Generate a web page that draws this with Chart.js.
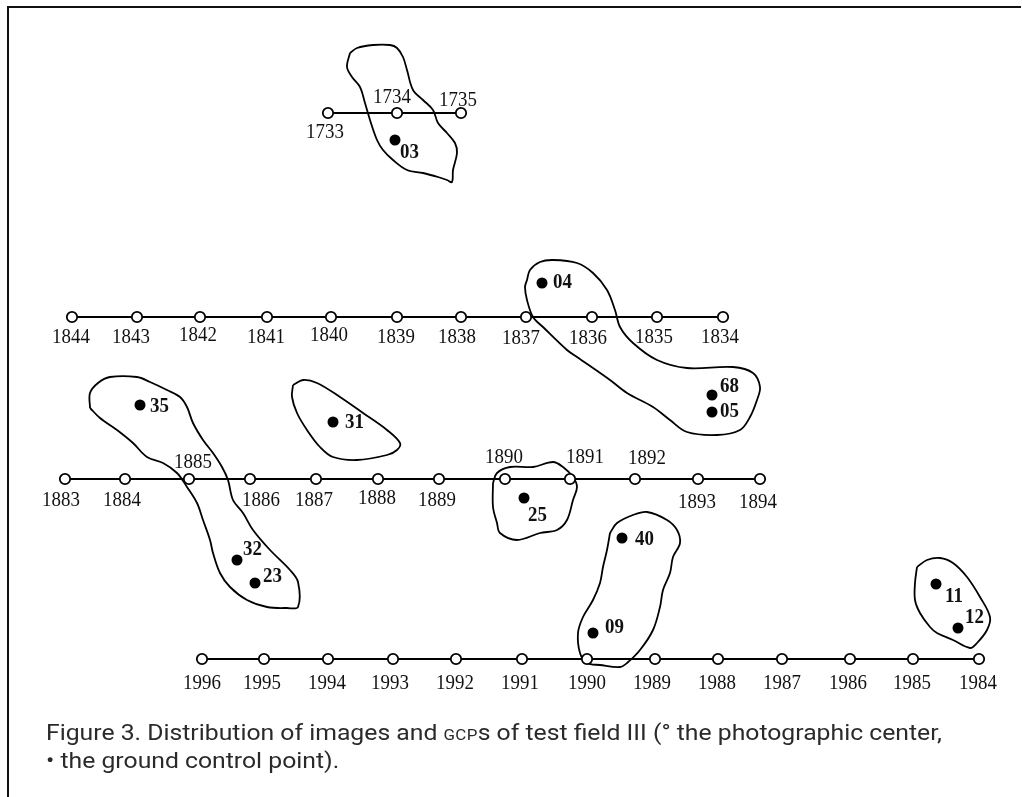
<!DOCTYPE html>
<html>
<head>
<meta charset="utf-8">
<script src="https://cdn.jsdelivr.net/npm/chart.js@4/dist/chart.umd.min.js"></script>
<style>
  html, body { margin: 0; padding: 0; background: #fff; }
  #wrap { position: relative; width: 1022px; height: 797px; overflow: hidden; }
  #frame { position: absolute; left: 7px; top: 6px; right: 1px; bottom: -10px;
           border-top: 2px solid #111; border-left: 2px solid #111; }
  #c { position: absolute; left: 0; top: 0; }
  .cap { position: absolute; left: 46px; font-family: 'Liberation Sans Narrow', 'Roboto', 'Liberation Sans', Arial, sans-serif;
         font-size: 22px; color: #2a2a2a; white-space: nowrap; transform-origin: 0 50%; line-height: 26px; }
  .sc { font-size: 15px; letter-spacing: 0.3px; }
</style>
</head>
<body>
<div id="wrap">
  <div id="frame"></div>
  <canvas id="c" width="1022" height="797"></canvas>
  <div class="cap" id="cap1" style="top:720px">Figure 3. Distribution of images and <span class="sc">GCP</span>s of test field III (&deg; the photographic center,</div>
  <div class="cap" id="cap2" style="top:748px">&bull; the ground control point).</div>
</div>
<script>
// ---------- DATA (diagram units) ----------
// Flight strips: photographic centres
const strip1Ids = ['1733', '1734', '1735'];
const strip1X   = [328, 397, 461];
const strip1Y   = [113, 113, 113];

const strip2Ids = ['1844', '1843', '1842', '1841', '1840', '1839', '1838', '1837', '1836', '1835', '1834'];
const strip2X   = [72, 137, 200, 267, 331, 397, 461, 526, 592, 657, 723];
const strip2Y   = [317, 317, 317, 317, 317, 317, 317, 317, 317, 317, 317];

const strip3Ids = ['1883', '1884', '1885', '1886', '1887', '1888', '1889', '1890', '1891', '1892', '1893', '1894'];
const strip3X   = [65, 125, 189, 250, 316, 378, 439, 505, 570, 635, 698, 760];
const strip3Y   = [479, 479, 479, 479, 479, 479, 479, 479, 479, 479, 479, 479];

const strip4Ids = ['1996', '1995', '1994', '1993', '1992', '1991', '1990', '1989', '1988', '1987', '1986', '1985', '1984'];
const strip4X   = [202, 264, 328, 393, 456, 522, 587, 655, 718, 782, 850, 913, 979];
const strip4Y   = [659, 659, 659, 659, 659, 659, 659, 659, 659, 659, 659, 659, 659];

// Ground control points
const gcpIds = ['03', '04', '68', '05', '35', '31', '32', '23', '25', '40', '09', '11', '12'];
const gcpX   = [395, 542, 712, 712, 140, 333, 237, 255, 524, 622, 593, 936, 958];
const gcpY   = [140, 283, 395, 412, 405, 422, 560, 583, 498, 538, 633, 584, 628];

// Image footprint outlines
const fpAX = [350, 357, 373, 390, 397, 403, 407, 413, 423, 433, 438, 447, 455, 457, 453, 452, 447, 438, 423, 407, 393, 383, 377, 370, 365, 360, 352, 347, 350];
const fpAY = [53, 48, 45, 45, 48, 57, 70, 90, 100, 110, 123, 133, 143, 153, 170, 182, 180, 177, 173, 170, 160, 150, 140, 120, 103, 87, 77, 67, 53];
const fpBX = [527, 530, 540, 553, 577, 593, 607, 615, 620, 633, 657, 687, 733, 753, 760, 757, 750, 740, 717, 687, 670, 653, 627, 610, 577, 567, 543, 533, 527, 525, 527];
const fpBY = [280, 270, 262, 260, 263, 273, 290, 310, 327, 343, 360, 368, 367, 373, 387, 400, 417, 430, 435, 432, 420, 407, 393, 380, 357, 350, 327, 317, 300, 287, 280];
const fpCX = [90, 90, 98, 110, 137, 150, 167, 180, 187, 193, 203, 213, 222, 228, 233, 243, 253, 270, 290, 298, 298, 287, 267, 247, 230, 220, 213, 210, 203, 197, 187, 177, 163, 147, 133, 117, 100, 90];
const fpCY = [408, 393, 383, 377, 377, 382, 390, 397, 407, 423, 440, 453, 467, 480, 500, 513, 530, 550, 570, 582, 607, 608, 607, 600, 587, 573, 553, 540, 520, 503, 487, 473, 463, 457, 443, 430, 418, 408];
const fpDX = [293, 303, 317, 340, 363, 387, 400, 397, 387, 357, 333, 320, 307, 297, 292, 293];
const fpDY = [385, 380, 383, 397, 413, 430, 443, 450, 455, 460, 457, 447, 430, 413, 397, 385];
const fpEX = [493, 497, 510, 533, 553, 563, 573, 577, 573, 567, 557, 540, 517, 500, 497, 493, 493];
const fpEY = [483, 473, 467, 467, 462, 467, 477, 487, 500, 520, 530, 533, 540, 533, 523, 507, 483];
const fpFX = [610, 617, 633, 647, 667, 677, 680, 673, 670, 663, 660, 653, 640, 627, 620, 600, 587, 580, 578, 583, 593, 600, 603, 607, 610];
const fpFY = [533, 523, 515, 512, 520, 530, 543, 557, 573, 590, 607, 630, 650, 663, 667, 665, 663, 653, 633, 617, 600, 583, 567, 550, 533];
const fpGX = [917, 927, 940, 953, 967, 980, 990, 987, 977, 970, 953, 937, 930, 920, 915, 915, 917];
const fpGY = [567, 560, 558, 563, 577, 597, 617, 630, 643, 648, 640, 633, 627, 613, 600, 583, 567];

// ---------- label placement (styling) ----------
const strip1LabelOff = [[-3, 19], [-5, -16], [-3, -13]];
const strip2LabelOff = [[-1, 20], [-6, 20], [-2, 18], [-1, 20], [-2, 18], [-1, 20], [-4, 20], [-5, 21], [-4, 21], [-3, 20], [-3, 20]];
const strip3LabelOff = [[-4, 21], [-3, 21], [4, -17], [11, 21], [-2, 21], [-1, 19], [-2, 21], [-1, -22], [15, -22], [12, -21], [-1, 23], [-2, 23]];
const strip4LabelOff = [[0, 24], [-2, 24], [-1, 24], [-3, 24], [-1, 24], [-2, 24], [0, 24], [-3, 24], [-1, 24], [0, 24], [-2, 24], [-1, 24], [-1, 24]];
const gcpLabelOff = [[5, 13], [11, 0], [8, -8], [8, 0], [10, 2], [12, 1], [6, -10], [8, -6], [4, 18], [13, 2], [12, -5], [9, 13], [7, -10]];

const pts = (xs, ys) => xs.map((x, i) => ({ x: x, y: ys[i] }));

const strips = [
  { ids: strip1Ids, x: strip1X, y: strip1Y, off: strip1LabelOff },
  { ids: strip2Ids, x: strip2X, y: strip2Y, off: strip2LabelOff },
  { ids: strip3Ids, x: strip3X, y: strip3Y, off: strip3LabelOff },
  { ids: strip4Ids, x: strip4X, y: strip4Y, off: strip4LabelOff }
];
const footprints = [[fpAX, fpAY], [fpBX, fpBY], [fpCX, fpCY], [fpDX, fpDY], [fpEX, fpEY], [fpFX, fpFY], [fpGX, fpGY]];

const datasets = [];
footprints.forEach(([xs, ys]) => datasets.push({
  type: 'line', data: pts(xs, ys), borderColor: '#000', borderWidth: 1.8,
  pointRadius: 0, tension: 0.35, fill: false, order: 5
}));
strips.forEach(s => datasets.push({
  type: 'line', data: pts(s.x, s.y), borderColor: '#000', borderWidth: 1.8,
  pointRadius: 0, tension: 0, fill: false, order: 4
}));
strips.forEach(s => datasets.push({
  type: 'scatter', data: pts(s.x, s.y), pointRadius: 5.2, pointBorderWidth: 1.8,
  pointBackgroundColor: '#fff', pointBorderColor: '#000', order: 1
}));
datasets.push({
  type: 'scatter', data: pts(gcpX, gcpY), pointRadius: 5.5, pointBorderWidth: 0,
  pointBackgroundColor: '#000', pointBorderColor: '#000', order: 1
});

function drawText(ctx, txt, x, y, sx) {
  ctx.save();
  ctx.translate(x, y);
  ctx.scale(sx, 1);
  ctx.fillText(txt, 0, 0);
  ctx.restore();
}

const labelPlugin = {
  id: 'labels',
  afterDatasetsDraw(chart) {
    const ctx = chart.ctx, xs = chart.scales.x, ys = chart.scales.y;
    ctx.save();
    ctx.fillStyle = '#111';
    ctx.textBaseline = 'middle';
    ctx.font = '21px "Liberation Serif", "Times New Roman", serif';
    ctx.textAlign = 'center';
    strips.forEach(s => s.ids.forEach((id, i) => {
      drawText(ctx, id, xs.getPixelForValue(s.x[i]) + s.off[i][0], ys.getPixelForValue(s.y[i]) + s.off[i][1], 0.9);
    }));
    ctx.font = 'bold 21px "Liberation Serif", "Times New Roman", serif';
    ctx.textAlign = 'left';
    gcpIds.forEach((id, i) => {
      drawText(ctx, id, xs.getPixelForValue(gcpX[i]) + gcpLabelOff[i][0], ys.getPixelForValue(gcpY[i]) + gcpLabelOff[i][1], 0.9);
    });
    ctx.restore();
  }
};

new Chart(document.getElementById('c'), {
  type: 'scatter',
  data: { datasets: datasets },
  options: {
    responsive: false, animation: false, devicePixelRatio: 1,
    layout: { padding: 0, autoPadding: false },
    plugins: { legend: { display: false }, tooltip: { enabled: false }, title: { display: false } },
    scales: {
      x: { type: 'linear', min: 0, max: 1022, display: false },
      y: { type: 'linear', min: 0, max: 797, reverse: true, display: false }
    }
  },
  plugins: [labelPlugin]
});

// fit caption width to the reference line length
const cap1 = document.getElementById('cap1'), cap2 = document.getElementById('cap2');
const w = cap1.getBoundingClientRect().width;
const k = 896 / w;
cap1.style.transform = 'scaleX(' + k + ')';
cap2.style.transform = 'scaleX(' + k + ')';
</script>
</body>
</html>
